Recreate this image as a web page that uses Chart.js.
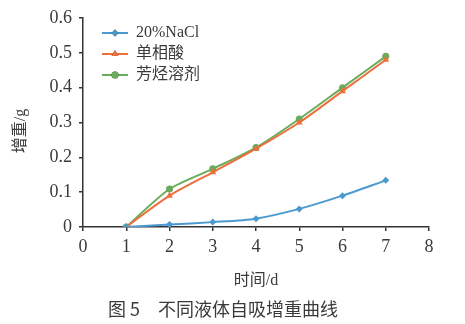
<!DOCTYPE html>
<html>
<head>
<meta charset="utf-8">
<script src="https://cdn.jsdelivr.net/npm/chart.js@4"></script>
<style>
  html, body { margin: 0; padding: 0; background: #fff; }
  #wrap { width: 465px; height: 324px; }
</style>
</head>
<body>
<div id="wrap"><canvas id="chart" width="465" height="324"></canvas></div>
<script>
/* ===== DATA ===== */
const days = [1, 2, 3, 4, 5, 6, 7];
const nacl = [0, 0.007, 0.014, 0.024, 0.052, 0.09, 0.134];
const acid = [0, 0.09, 0.157, 0.225, 0.30, 0.39, 0.48];
const solvent = [0, 0.109, 0.167, 0.228, 0.31, 0.40, 0.49];
const seriesNames = ["20%NaCl", "单相酸", "芳烃溶剂"];
const seriesColors = ["#4a9ad0", "#ee6f3c", "#6aab5c"];
const seriesMarkers = ["rectRot", "triangle", "circle"];
const xTicks = [0, 1, 2, 3, 4, 5, 6, 7, 8];
const yTicks = [0, 0.1, 0.2, 0.3, 0.4, 0.5, 0.6];

const FONT = '"Liberation Serif", "Noto Sans CJK SC", serif';
const CJK = '"Noto Sans CJK SC", "Liberation Serif", serif';
const TEXT = "#3a3a3a";

function toPoints(vals) {
    return days.map((d, i) => ({ x: d, y: vals[i] }));
}

/* ===== LEGEND + TITLES ===== */
const extras = {
    id: "extras",
    afterDraw(chart) {
        const ctx = chart.ctx;
        ctx.save();
        // legend
        chart.data.datasets.forEach((ds, i) => {
            const y = 33 + i * 21;
            ctx.strokeStyle = ds.borderColor;
            ctx.lineWidth = 2;
            ctx.beginPath();
            ctx.moveTo(102, y);
            ctx.lineTo(128, y);
            ctx.stroke();
            Chart.helpers.drawPoint(ctx, {
                pointStyle: ds.pointStyle, radius: ds.pointRadius, rotation: 0
            }, 115, y);
            ctx.fillStyle = ds.borderColor;
            ctx.fill();
            ctx.fillStyle = TEXT;
            ctx.font = "16px " + FONT;
            ctx.textAlign = "left";
            ctx.textBaseline = "middle";
            ctx.fillText(ds.label, 136, y);
        });
        // y title
        ctx.save();
        ctx.translate(21, 131);
        ctx.rotate(-Math.PI / 2);
        ctx.font = "16px " + FONT;
        ctx.textAlign = "center";
        ctx.textBaseline = "middle";
        ctx.fillStyle = TEXT;
        ctx.fillText("增重/g", 0, 0);
        ctx.restore();
        // x title
        ctx.font = "16px " + FONT;
        ctx.textAlign = "center";
        ctx.textBaseline = "middle";
        ctx.fillStyle = TEXT;
        ctx.fillText("时间/d", 256, 281);
        // caption
        ctx.font = "18px " + CJK;
        ctx.fillText("图 5\u3000不同液体自吸增重曲线", 223, 309);
        ctx.restore();
    }
};

/* ===== CHART ===== */
new Chart(document.getElementById("chart"), {
    type: "line",
    data: {
        datasets: [nacl, acid, solvent].map((vals, i) => ({
            label: seriesNames[i],
            data: toPoints(vals),
            borderColor: seriesColors[i],
            backgroundColor: seriesColors[i],
            pointStyle: seriesMarkers[i],
            pointRadius: i === 1 ? 4 : 3.5,
            pointBorderWidth: 0,
            borderWidth: 2,
            tension: 0.25
        }))
    },
    options: {
        responsive: false,
        animation: false,
        layout: { padding: { top: 18, right: 36, left: 0, bottom: 0 } },
        plugins: { legend: { display: false }, tooltip: { enabled: false } },
        scales: {
            x: {
                type: "linear",
                min: 0, max: 8,
                afterBuildTicks: s => { s.ticks = xTicks.map(v => ({ value: v })); },
                afterFit: s => { s.height = 97; },
                grid: { drawOnChartArea: false, drawTicks: true, tickLength: 4, color: "#333", lineWidth: 1.5 },
                border: { color: "#333", width: 1.5 },
                ticks: { color: TEXT, font: { family: FONT, size: 18 }, padding: 5, maxRotation: 0 }
            },
            y: {
                min: 0, max: 0.6,
                afterBuildTicks: s => { s.ticks = yTicks.map(v => ({ value: v })); },
                afterFit: s => { s.width = 83; },
                grid: { drawOnChartArea: false, drawTicks: true, tickLength: 4, color: "#333", lineWidth: 1.5 },
                border: { color: "#333", width: 1.5 },
                ticks: {
                    color: TEXT, font: { family: FONT, size: 18 }, padding: 7,
                    callback: v => v === 0 ? "0" : v.toFixed(1)
                }
            }
        }
    },
    plugins: [extras]
});
</script>
</body>
</html>
